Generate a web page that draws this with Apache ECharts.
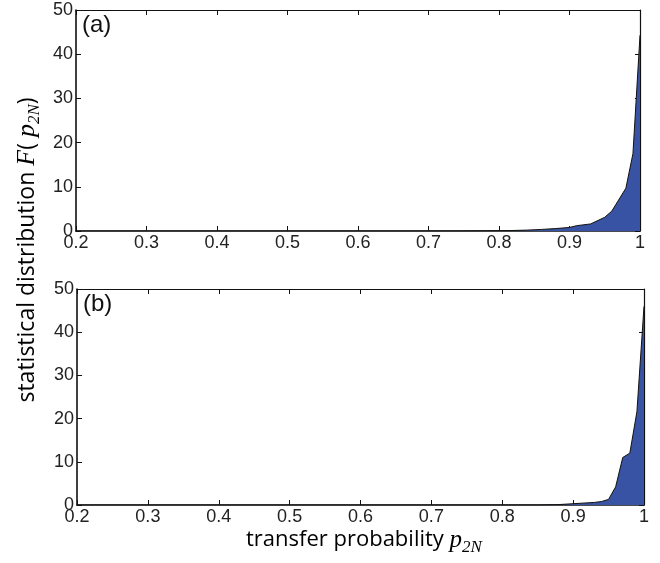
<!DOCTYPE html>
<html><head><meta charset="utf-8">
<script src="https://cdn.jsdelivr.net/npm/echarts@6/dist/echarts.min.js"></script>
<style>html,body{margin:0;padding:0;background:#fff}#c{width:660px;height:563px}</style>
</head><body><div id="c"></div>
<script>
// ---- data ----
const xA = [0.2, 0.7, 0.75, 0.8, 0.82, 0.84, 0.86, 0.88, 0.9, 0.91, 0.93, 0.95, 0.96, 0.98, 0.99, 1.0];
const yA = [0, 0, 0.02, 0.08, 0.12, 0.2, 0.35, 0.55, 0.8, 1.2, 1.6, 3.1, 4.5, 9.7, 17.5, 44.3];
const xB = [0.2, 0.85, 0.88, 0.9, 0.93, 0.94, 0.95, 0.96, 0.97, 0.98, 0.99, 1.0];
const yB = [0, 0, 0.1, 0.3, 0.6, 0.8, 1.3, 4.2, 11.0, 12.0, 21.6, 46.0];
const panelLabels = ['(a)', '(b)'];
const xTitle = 'transfer probability ';
const yTitle = 'statistical distribution ';
const xMin = 0.2, xMax = 1, xStep = 0.1;
const yMin = 0, yMax = 50, yStep = 10;

// ---- chart ----
const chart = echarts.init(document.getElementById('c'), null, {renderer: 'canvas'});
const grids = [
  {left: 76, top: 10, width: 564, height: 221},
  {left: 77, top: 289, width: 567, height: 216}
];
const labelStyle = {fontFamily: 'Liberation Sans', fontSize: 18, color: '#222'};
const xAxes = [], yAxes = [];
grids.forEach((g, i) => {
  xAxes.push({
    type: 'value', gridIndex: i, position: 'bottom', min: xMin, max: xMax, interval: xStep,
    axisLine: {show: true, lineStyle: {color: '#111', width: 1.6}},
    axisTick: {show: true, inside: true, length: 5, lineStyle: {color: '#111', width: 1}},
    axisLabel: Object.assign({margin: 3}, labelStyle),
    splitLine: {show: false}
  });
  xAxes.push({
    type: 'value', gridIndex: i, position: 'top', min: xMin, max: xMax, interval: xStep,
    axisLine: {show: true, onZero: false, lineStyle: {color: '#111', width: 1.2}},
    axisTick: {show: true, inside: true, length: 5, lineStyle: {color: '#111', width: 1}},
    axisLabel: {show: false}, splitLine: {show: false}
  });
  yAxes.push({
    type: 'value', gridIndex: i, position: 'left', min: yMin, max: yMax, interval: yStep,
    axisLine: {show: true, onZero: false, lineStyle: {color: '#111', width: 1.6}},
    axisTick: {show: true, inside: true, length: 5, lineStyle: {color: '#111', width: 1}},
    axisLabel: Object.assign({margin: 3}, labelStyle),
    splitLine: {show: false}
  });
  yAxes.push({
    type: 'value', gridIndex: i, position: 'right', min: yMin, max: yMax, interval: yStep,
    axisLine: {show: true, onZero: false, lineStyle: {color: '#111', width: 1.2}},
    axisTick: {show: true, inside: true, length: 5, lineStyle: {color: '#111', width: 1}},
    axisLabel: {show: false}, splitLine: {show: false}
  });
});

function mkSeries(xs, ys, idx) {
  return {
    type: 'line', xAxisIndex: idx * 2, yAxisIndex: idx * 2,
    data: xs.map((x, k) => [x, ys[k]]),
    symbol: 'none', silent: true, animation: false,
    lineStyle: {color: '#111', width: 1},
    areaStyle: {color: '#3953a4', opacity: 1}
  };
}

const serif = 'Liberation Serif';
const sans = 'Open Sans';
chart.setOption({
  animation: false,
  grid: grids,
  xAxis: xAxes,
  yAxis: yAxes,
  series: [mkSeries(xA, yA, 0), mkSeries(xB, yB, 1)],
  graphic: [
    {type: 'text', left: 82, top: 13, style: {text: panelLabels[0], font: '24px "Liberation Sans"', fill: '#111'}},
    {type: 'text', left: 83, top: 292, style: {text: panelLabels[1], font: '24px "Liberation Sans"', fill: '#111'}},
    {
      type: 'text', x: 246, y: 540,
      style: {
        text: '{s|' + xTitle + '}{i|p}{sub|2N}',
        align: 'left', verticalAlign: 'middle', textAlign: 'left', textVerticalAlign: 'middle',
        rich: {
          s: {fontFamily: sans, fontSize: 22, color: '#111'},
          i: {fontFamily: serif, fontStyle: 'italic', fontSize: 25, color: '#111'},
          sub: {fontFamily: serif, fontStyle: 'italic', fontSize: 17, color: '#111', padding: [15, 0, 0, 0]}
        }
      }
    },
    {
      type: 'text', x: 27, y: 250, rotation: Math.PI / 2,
      style: {
        text: '{s|' + yTitle + '}{i|F}{s|( }{i|p}{sub|2N}{s|)}',
        align: 'center', verticalAlign: 'middle', textAlign: 'center', textVerticalAlign: 'middle',
        rich: {
          s: {fontFamily: sans, fontSize: 23, color: '#111'},
          i: {fontFamily: serif, fontStyle: 'italic', fontSize: 26, color: '#111'},
          sub: {fontFamily: serif, fontStyle: 'italic', fontSize: 17, color: '#111', padding: [15, 0, 0, 0]}
        }
      }
    }
  ]
});
</script></body></html>
